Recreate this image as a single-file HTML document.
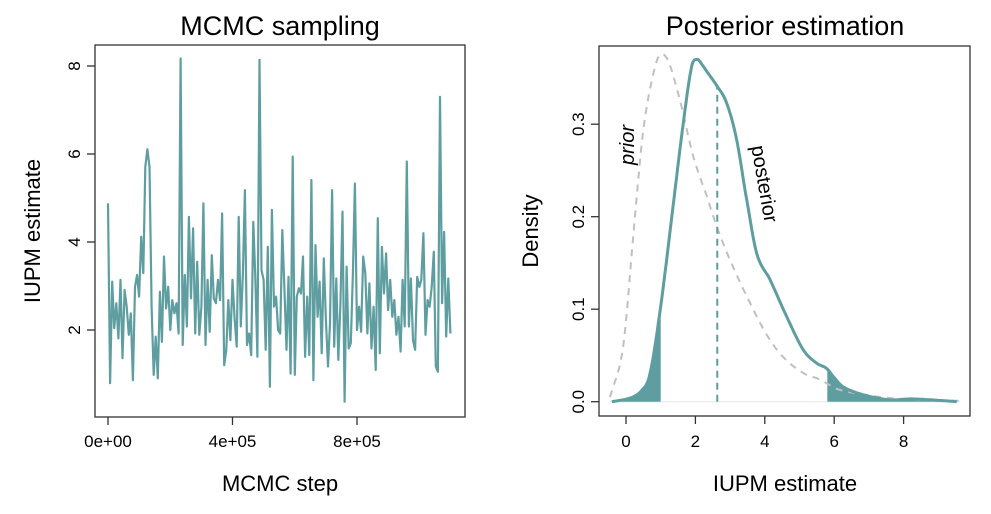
<!DOCTYPE html>
<html><head><meta charset="utf-8">
<style>
html,body{margin:0;padding:0;background:#fff;}
svg{display:block;font-family:"Liberation Sans",Arial,sans-serif;}
</style></head>
<body>
<svg id="chart" width="991" height="514" viewBox="0 0 991 514" xmlns="http://www.w3.org/2000/svg">
<g id="left">
  <text x="280" y="35" font-size="27" text-anchor="middle">MCMC sampling</text>
  <rect x="95" y="45" width="370" height="372" fill="none" stroke="#333" stroke-width="1.3"/>
  <text x="280" y="491" font-size="22" text-anchor="middle">MCMC step</text>
  <text transform="translate(40,231) rotate(-90)" font-size="22" text-anchor="middle">IUPM estimate</text>
  <g id="lx"></g>
  <g id="ly"></g>
  <polyline id="trace" fill="none" stroke="#5f9ea0" stroke-width="2.2" stroke-linejoin="round"/>
</g>
<g id="right">
  <text x="785" y="35" font-size="27" text-anchor="middle">Posterior estimation</text>
  <rect x="599" y="46" width="371" height="370" fill="none" stroke="#333" stroke-width="1.3"/>
  <text x="785" y="491" font-size="22" text-anchor="middle">IUPM estimate</text>
  <text transform="translate(538,231) rotate(-90)" font-size="22" text-anchor="middle">Density</text>
  <g id="rx"></g>
  <g id="ry"></g>
  <line x1="610" y1="401.7" x2="960" y2="401.7" stroke="#eee" stroke-width="1.5"/>
  <path id="shadeL" fill="#5f9ea0"/>
  <path id="shadeR" fill="#5f9ea0"/>
  <path id="prior" fill="none" stroke="#c0c0c0" stroke-width="2" stroke-dasharray="7,6"/>
  <path id="post" fill="none" stroke="#5f9ea0" stroke-width="3" stroke-linejoin="round"/>
  <line id="medLine" stroke="#5f9ea0" stroke-width="2" stroke-dasharray="7,5"/>
  <text transform="translate(634,145) rotate(-90)" font-size="20" font-style="italic" text-anchor="middle">prior</text>
  <text transform="translate(758,185) rotate(80)" font-size="20" text-anchor="middle">posterior</text>
</g>
</svg>
<script>
const traceValues=[4.88,0.79,3.10,2.04,2.61,1.81,3.14,1.36,2.91,2.53,1.89,2.38,0.86,2.98,3.25,2.76,4.12,3.29,5.71,6.11,5.71,2.53,0.98,1.85,0.9,2.87,1.73,3.67,2.49,2.98,2.0,2.68,2.38,2.61,1.92,8.17,1.66,3.25,2.08,4.57,2.72,4.31,1.92,3.55,1.89,2.53,4.88,1.66,3.14,1.96,3.70,2.72,2.61,3.14,2.68,4.65,1.2,1.55,2.68,1.77,3.14,2.26,1.62,4.57,2.08,3.29,5.18,1.66,1.92,1.43,4.46,3.21,1.39,8.14,
3.36,3.14,1.55,3.89,0.71,4.73,2.53,2.76,2.0,1.92,4.27,2.95,1.55,3.21,1.01,5.94,0.98,2.76,2.95,2.83,3.67,1.39,2.76,1.43,5.41,0.86,3.93,2.30,3.10,1.47,3.63,2.23,1.17,2.15,5.18,1.62,3.17,1.32,2.57,4.69,0.37,3.44,1.58,1.70,3.29,5.33,2.0,2.53,1.96,3.67,3.29,1.92,3.06,1.58,2.53,1.09,4.54,1.47,3.89,2.83,3.74,2.45,3.14,2.30,2.68,1.89,2.30,1.51,3.14,2.08,5.83,2.08,3.17,1.77,1.55,3.21,2.98,3.14,4.20,1.89,2.68,2.53,2.98,3.78,1.17,1.05,7.3,2.61,4.23,1.85,3.17,1.92];
const traceMaxStep=1100000;
const leftXTicks=[0,400000,800000];
const leftXTickLabels=["0e+00","4e+05","8e+05"];
const leftYTicks=[2,4,6,8];
const postX=[-0.41,0.12,0.45,0.69,1.0,1.32,1.65,1.89,2.05,2.2,2.33,2.61,2.9,3.19,3.48,3.77,4.15,4.63,5.11,5.5,5.78,6.0,6.26,6.84,7.6,8.18,8.8,9.53];
const postY=[0,0.004,0.012,0.03,0.103,0.2,0.301,0.362,0.370,0.364,0.357,0.342,0.323,0.283,0.218,0.160,0.132,0.092,0.056,0.0415,0.036,0.026,0.016,0.0075,0.002,0.003,0.002,0];
const priorX=[-0.46,-0.08,0.21,0.5,0.79,0.98,1.22,1.56,1.94,2.33,2.61,3.0,3.48,4.03,4.51,5.11,5.59,6.07,6.65,7.6,8.56,9.6];
const priorY=[0.005,0.06,0.18,0.294,0.355,0.375,0.368,0.325,0.265,0.222,0.19,0.153,0.114,0.074,0.049,0.031,0.024,0.014,0.009,0.004,0.002,0.001];
const lowerCut=1.0, upperCut=5.8, medianVal=2.63;
const rightXTicks=[0,2,4,6,8];
const rightYTicks=[0,0.1,0.2,0.3];
const rightYTickLabels=["0.0","0.1","0.2","0.3"];

const NS="http://www.w3.org/2000/svg";
function mk(tag,attrs,parent){const e=document.createElementNS(NS,tag);for(const k in attrs)e.setAttribute(k,attrs[k]);parent.appendChild(e);return e;}
const lxs=v=>108+v*(249/800000), lys=v=>418-v*44;
const rxs=v=>626+v*34.7, rys=v=>401.7-v*925;

const n=traceValues.length;
document.getElementById('trace').setAttribute('points',traceValues.map((v,i)=>lxs(i/(n-1)*traceMaxStep).toFixed(1)+','+lys(v).toFixed(1)).join(' '));
const lx=document.getElementById('lx');
leftXTicks.forEach((t,i)=>{
  const l=mk('line',{x1:lxs(t),x2:lxs(t),y1:417,y2:425,stroke:'#333','stroke-width':1.3},lx);
  
  
  const tx=mk('text',{x:lxs(t),y:447,'font-size':17,'text-anchor':'middle'},lx);tx.textContent=leftXTickLabels[i];
  
  
});
const ly=document.getElementById('ly');
leftYTicks.forEach(t=>{
  const l=mk('line',{x1:87,x2:95,y1:lys(t),y2:lys(t),stroke:'#333','stroke-width':1.3},ly);
  
  
  const tx=mk('text',{transform:`translate(80,${lys(t)}) rotate(-90)`,'font-size':17,'text-anchor':'middle'},ly);tx.textContent=String(t);
  
  
});

// smooth sampling via monotone-ish Catmull-Rom in data space
function smooth(xs,ys,steps){const out=[];
  for(let i=0;i<xs.length-1;i++){
    const x0=xs[Math.max(i-1,0)],y0=ys[Math.max(i-1,0)],x1=xs[i],y1=ys[i],x2=xs[i+1],y2=ys[i+1],x3=xs[Math.min(i+2,xs.length-1)],y3=ys[Math.min(i+2,xs.length-1)];
    const m1=(y2-y0)/(x2-x0||1)*(x2-x1), m2=(y3-y1)/(x3-x1||1)*(x2-x1);
    for(let s=0;s<steps;s++){const t=s/steps,t2=t*t,t3=t2*t;
      const y=(2*t3-3*t2+1)*y1+(t3-2*t2+t)*m1+(-2*t3+3*t2)*y2+(t3-t2)*m2;
      out.push([x1+(x2-x1)*t,Math.max(0,y)]);}
  }
  out.push([xs[xs.length-1],ys[ys.length-1]]);return out;}
const postS=smooth(postX,postY,10), priorS=smooth(priorX,priorY,10);
const toD=p=>'M'+p.map(q=>rxs(q[0]).toFixed(1)+','+rys(q[1]).toFixed(1)).join(' L');
document.getElementById('post').setAttribute('d',toD(postS));
document.getElementById('prior').setAttribute('d',toD(priorS));
function interpS(p,x){for(let i=0;i<p.length-1;i++){if(x>=p[i][0]&&x<=p[i+1][0]){const f=(x-p[i][0])/(p[i+1][0]-p[i][0]);return p[i][1]+f*(p[i+1][1]-p[i][1]);}}return 0;}
function shade(a,b){const pts=[[a,0],[a,interpS(postS,a)]];postS.forEach(q=>{if(q[0]>a&&q[0]<b)pts.push(q);});
  pts.push([b,interpS(postS,b)]);pts.push([b,0]);return toD(pts)+' Z';}
document.getElementById('shadeL').setAttribute('d',shade(postX[0],lowerCut));
document.getElementById('shadeR').setAttribute('d',shade(upperCut,postX[postX.length-1]));
const ml=document.getElementById('medLine');
ml.setAttribute('x1',rxs(medianVal));ml.setAttribute('x2',rxs(medianVal));
ml.setAttribute('y1',rys(0));ml.setAttribute('y2',rys(interpS(postS,medianVal)));
const rx=document.getElementById('rx');
rightXTicks.forEach(t=>{
  const l=mk('line',{x1:rxs(t),x2:rxs(t),y1:416,y2:424,stroke:'#333','stroke-width':1.3},rx);
  
  
  const tx=mk('text',{x:rxs(t),y:447,'font-size':17,'text-anchor':'middle'},rx);tx.textContent=String(t);
  
  
});
const ry=document.getElementById('ry');
rightYTicks.forEach((t,i)=>{
  const l=mk('line',{x1:591,x2:599,y1:rys(t),y2:rys(t),stroke:'#333','stroke-width':1.3},ry);
  
  
  const tx=mk('text',{transform:`translate(584,${rys(t)}) rotate(-90)`,'font-size':17,'text-anchor':'middle'},ry);tx.textContent=rightYTickLabels[i];
  
  
});
</script>
</body></html>
